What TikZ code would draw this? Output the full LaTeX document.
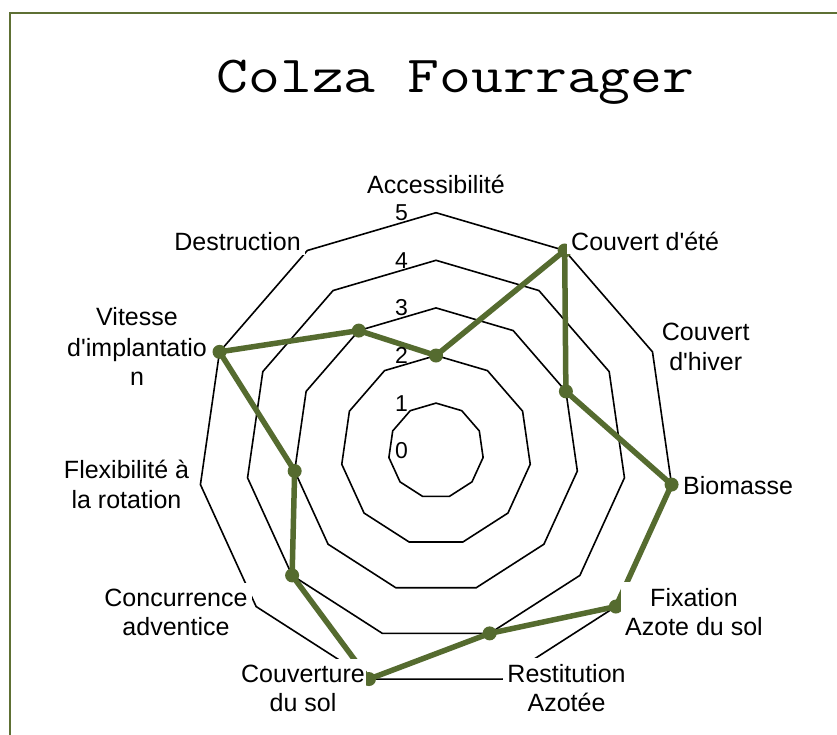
\documentclass[tikz,border=0pt]{standalone}
\usepackage{fontspec}
\setmainfont{Liberation Sans}
\usetikzlibrary{fit}
\definecolor{chartgreen}{HTML}{556B2F}
\definecolor{framegreen}{HTML}{5E7034}
\pgfdeclarelayer{back}
\pgfdeclarelayer{mid}
\pgfsetlayers{back,mid,main}
\tikzset{
  ring/.style={black, line width=1.6pt, line join=miter},
  series/.style={chartgreen, line width=5.5pt, line join=round},
  lab/.style={font=\fontsize{25}{30}\selectfont, inner sep=1pt, anchor=base},
  num/.style={font=\fontsize{23}{27}\selectfont, inner sep=0pt, anchor=base east},
  labbox/.style={fill=white, draw=none, inner sep=3pt},
}
\begin{document}
\begin{tikzpicture}[x=1pt,y=-1pt]
\useasboundingbox (0,0) rectangle (837,734);
\begin{pgfonlayer}{back}
\clip (0,0) rectangle (837,734);
\fill[white] (0,0) rectangle (837,734);
\draw[framegreen, line width=2.5pt] (10,13) rectangle (880,780);
% rings
\foreach \l in {1,...,5}{
  \pgfmathsetmacro{\r}{\l*47.6}
  \draw[ring] (436,{450.7-\r}) \foreach \k in {1,...,10}{ -- ({436+\r*sin(\k*360/11)},{450.7-\r*cos(\k*360/11)}) } -- cycle;
}
% data
\foreach \v [count=\k from 0] in {2,5,3,5,5,4,5,4,3,5,3}{
  \coordinate (p\k) at ({436+\v*47.6*sin(\k*360/11)},{450.7-\v*47.6*cos(\k*360/11)});
}
\draw[series] (p0)--(p1)--(p2)--(p3)--(p4)--(p5)--(p6)--(p7)--(p8)--(p9)--(p10)--cycle;
\foreach \k in {0,...,10}{ \fill[chartgreen] (p\k) circle (7); }
\end{pgfonlayer}
\node[font=\ttfamily\fontsize{52}{60}\selectfont, anchor=base, inner sep=0pt, xscale=1.19] (title) at (455.5,92.7) {Colza Fourrager};
% numbers
\foreach \l in {0,...,5}{
  \node[num] (n\l) at (408,{458.7-\l*47.6}) {\l};
}
% labels
\node[lab] (l0) at (436,193) {Accessibilité};
\node[lab, anchor=base west] (l1) at (570,250) {Couvert d\textquotesingle été};
\node[lab] (l2a) at (705.7,340) {Couvert};
\node[lab] (l2b) at (705.7,370) {d\textquotesingle hiver};
\node[lab, anchor=base west] (l3) at (682,494.3) {Biomasse};
\node[lab] (l4a) at (694,606.7) {Fixation};
\node[lab] (l4b) at (694,635.7) {Azote du sol};
\node[lab] (l5a) at (566.5,682.7) {Restitution};
\node[lab] (l5b) at (566.5,711.7) {Azotée};
\node[lab] (l6a) at (303,682.7) {Couverture};
\node[lab] (l6b) at (303,711.7) {du sol};
\node[lab] (l7a) at (176,606.7) {Concurrence};
\node[lab] (l7b) at (176,635.7) {adventice};
\node[lab] (l8a) at (126.5,478) {Flexibilité à};
\node[lab] (l8b) at (126.5,508) {la rotation};
\node[lab] (l9a) at (137,325) {Vitesse};
\node[lab] (l9b) at (137,356.7) {d\textquotesingle implantatio};
\node[lab] (l9c) at (137,385) {n};
\node[lab, anchor=base east] (l10) at (302,250.7) {Destruction};
% white label boxes
\begin{pgfonlayer}{mid}
\node[labbox, fit=(l0)] (b0) {};
\node[labbox, fit=(l1)] (b1) {};
\node[labbox, fit=(l2a)(l2b)] (b2) {};
\node[labbox, fit=(l3)] (b3) {};
\node[labbox, fit=(l4a)(l4b), inner ysep=5pt] (b4) {};
\node[labbox, fit=(l5a)(l5b), inner ysep=5pt] (b5) {};
\node[labbox, fit=(l6a)(l6b), inner ysep=5pt, inner xsep=0pt] (b6) {};
\node[labbox, fit=(l7a)(l7b), inner ysep=5pt] (b7) {};
\node[labbox, fit=(l8a)(l8b)] (b8) {};
\node[labbox, fit=(l9a)(l9b)(l9c)] (b9) {};
\node[labbox, fit=(l10)] (b10) {};
\end{pgfonlayer}
\end{tikzpicture}
\end{document}
